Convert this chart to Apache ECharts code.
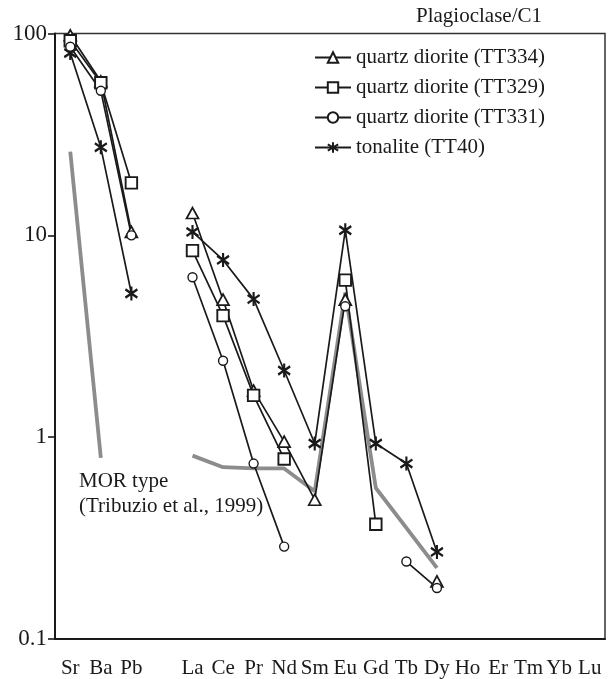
<!DOCTYPE html>
<html>
<head>
<meta charset="utf-8">
<script src="https://cdn.jsdelivr.net/npm/echarts@6/dist/echarts.min.js"></script>
<style>
  html, body { margin: 0; padding: 0; background: #fff; }
  #chart { width: 608px; height: 679px; }
</style>
</head>
<body>
<div id="chart"></div>
<script>
// Element order on the x axis (empty slot separates LILE from REE)
const categories = ['Sr', 'Ba', 'Pb', '', 'La', 'Ce', 'Pr', 'Nd', 'Sm', 'Eu', 'Gd', 'Tb', 'Dy', 'Ho', 'Er', 'Tm', 'Yb', 'Lu'];

// Plagioclase / C1 normalised concentrations
const tt334 = [98, 58, 10.4, null, 12.9, 4.8, 1.7, 0.95, 0.49, 4.8, null, null, 0.193, null, null, null, null, null];
const tt329 = [92, 57, 18.2, null, 8.4, 4.0, 1.61, 0.78, null, 6.0, 0.37, null, null, null, null, null, null, null];
const tt331 = [86, 52, 10.0, null, 6.2, 2.39, 0.74, 0.287, null, 4.45, null, 0.242, 0.179, null, null, null, null, null];
const tt40  = [80, 27.3, 5.15, null, 10.4, 7.55, 4.83, 2.14, 0.93, 10.6, 0.93, 0.74, 0.27, null, null, null, null, null];

// MOR-type plagioclase reference pattern
const morType = [26, 0.79, null, null, 0.81, 0.71, 0.70, 0.70, 0.54, 5.2, 0.56, null, 0.225, null, null, null, null, null];

const yTicks = [0.1, 1, 10, 100];

const seriesNames = ['quartz diorite (TT334)', 'quartz diorite (TT329)', 'quartz diorite (TT331)', 'tonalite (TT40)'];

const FONT = 'Liberation Serif';
const INK = '#1a1a1a';
const starPath = 'path://M5,0L5,12M0,2.5L10,9.5M10,2.5L0,9.5';

const chart = echarts.init(document.getElementById('chart'), null, { renderer: 'canvas' });

function sampleSeries(name, data, symbol, size, fill, bw) {
  return {
    name: name,
    type: 'line',
    data: data,
    z: 3,
    symbol: symbol,
    symbolSize: size,
    showSymbol: true,
    connectNulls: false,
    lineStyle: { color: INK, width: 1.7 },
    itemStyle: { color: fill, borderColor: INK, borderWidth: bw },
    emphasis: { disabled: true }
  };
}

// Split MOR reference into the LILE part and the REE part (REE part bridges the missing Tb)
const morLile = morType.map((v, i) => (i < 3 ? v : null));
const morRee = morType.map((v, i) => (i > 3 ? v : null));

const option = {
  animation: false,
  backgroundColor: '#fff',
  grid: {
    left: 55, top: 33.5, right: 3, bottom: 38,
    show: true, borderColor: '#333', borderWidth: 1.5, backgroundColor: 'transparent'
  },
  legend: {
    data: seriesNames,
    orient: 'vertical',
    left: 314,
    top: 47,
    padding: 0,
    itemWidth: 36,
    itemHeight: 13,
    itemGap: 9,
    textStyle: { fontFamily: FONT, fontSize: 21, color: INK, lineHeight: 21 },
    selectedMode: false
  },
  xAxis: {
    type: 'category',
    data: categories,
    boundaryGap: true,
    axisLine: { lineStyle: { color: INK, width: 2 } },
    axisTick: { alignWithLabel: true, interval: 0, length: 10, lineStyle: { color: INK, width: 1.6 } },
    axisLabel: { interval: 0, fontFamily: FONT, fontSize: 21, color: INK, margin: 19 },
    splitLine: { show: false }
  },
  yAxis: {
    type: 'log',
    logBase: 10,
    min: yTicks[0],
    max: yTicks[yTicks.length - 1],
    axisLine: { show: true, lineStyle: { color: INK, width: 2 } },
    axisTick: { show: true, length: 7, lineStyle: { color: INK, width: 1.6 } },
    minorTick: { show: false },
    axisLabel: { fontFamily: FONT, fontSize: 23, color: INK, margin: 8, formatter: v => String(v) },
    splitLine: { show: false }
  },
  graphic: [
    {
      type: 'text', right: 66, top: 6,
      style: { text: 'Plagioclase/C1', font: '21px "Liberation Serif"', fill: INK }
    },
    {
      type: 'text', left: 79, top: 469,
      style: { text: 'MOR type\n(Tribuzio et al., 1999)', font: '21px "Liberation Serif"', fill: INK, lineHeight: 25 }
    }
  ],
  series: [
    {
      name: 'MOR type', type: 'line', data: morLile, z: 2, symbol: 'none', connectNulls: false,
      lineStyle: { color: '#8c8c8c', width: 3.8 }, emphasis: { disabled: true }
    },
    {
      name: 'MOR type REE', type: 'line', data: morRee, z: 2, symbol: 'none', connectNulls: true,
      lineStyle: { color: '#8c8c8c', width: 3.8 }, emphasis: { disabled: true }
    },
    sampleSeries(seriesNames[3], tt40, starPath, [12, 14], INK, 2.3),
    sampleSeries(seriesNames[0], tt334, 'triangle', [12, 11], '#fff', 1.7),
    sampleSeries(seriesNames[1], tt329, 'rect', 11.5, '#fff', 1.9),
    sampleSeries(seriesNames[2], tt331, 'circle', 9, '#fff', 1.4)
  ]
};

chart.setOption(option);
</script>
</body>
</html>
